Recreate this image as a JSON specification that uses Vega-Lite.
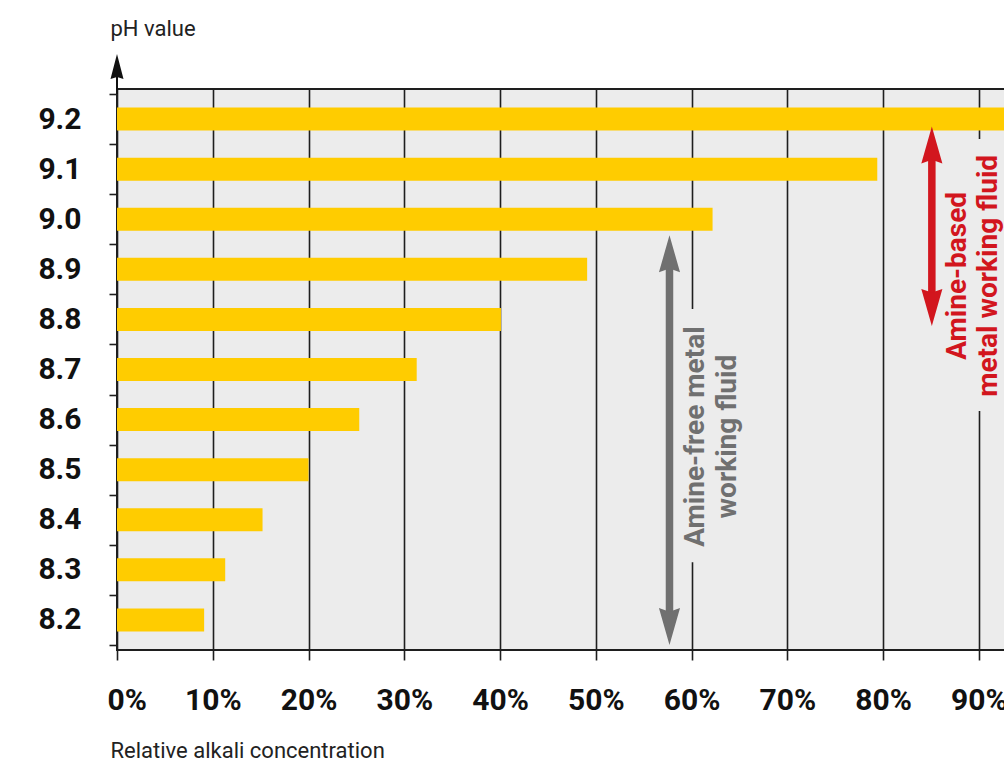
{
  "$schema": "https://vega.github.io/schema/vega-lite/v6.json",
  "width": 888,
  "height": 561,
  "autosize": {"type": "none"},
  "padding": {"left": 117, "top": 89, "right": 0, "bottom": 111},
  "background": "white",
  "config": {
    "view": {"fill": "#ececec", "stroke": "#1e1e1e", "strokeWidth": 2},
    "font": "Roboto"
  },
  "datasets": {
    "bars": [
      {"ph": 9.2, "share": 100},
      {"ph": 9.1, "share": 79.4},
      {"ph": 9.0, "share": 62.2},
      {"ph": 8.9, "share": 49.1},
      {"ph": 8.8, "share": 40.1},
      {"ph": 8.7, "share": 31.3},
      {"ph": 8.6, "share": 25.3},
      {"ph": 8.5, "share": 20.0},
      {"ph": 8.4, "share": 15.2},
      {"ph": 8.3, "share": 11.3},
      {"ph": 8.2, "share": 9.1}
    ],
    "ranges": [
      {"fluid": "Amine-free", "x": 57.7, "low": 8.15, "high": 8.968, "shaftLow": 8.21, "shaftHigh": 8.91},
      {"fluid": "Amine-based", "x": 85.1, "low": 8.787, "high": 9.185, "shaftLow": 8.85, "shaftHigh": 9.125}
    ],
    "labels": [
      {"fluid": "Amine-free", "x": 60.5, "y": 8.566, "lines": ["Amine-free metal", "working fluid"], "bx1": 59.5, "bx2": 64.8, "by1": 8.315, "by2": 8.821},
      {"fluid": "Amine-based", "x": 87.8, "y": 8.887, "lines": ["Amine-based", "metal working fluid"], "bx1": 87.0, "bx2": 92.74, "by1": 8.617, "by2": 9.16}
    ],
    "axisArrow": [
      {"x": 0, "base": 9.25, "top": 9.29, "tip": 9.33}
    ]
  },
  "layer": [
    {
      "data": {"name": "bars"},
      "mark": {"type": "bar", "orient": "horizontal", "size": 23, "color": "#ffcc00", "clip": true},
      "encoding": {
        "x": {
          "field": "share", "type": "quantitative",
          "scale": {"domain": [0, 92.74], "nice": false, "zero": true},
          "axis": {
            "values": [0, 10, 20, 30, 40, 50, 60, 70, 80, 90],
            "labelExpr": "datum.value + '%'",
            "grid": true, "gridColor": "#1e1e1e", "gridWidth": 1.6,
            "domain": false,
            "tickColor": "#1e1e1e", "tickWidth": 1.6, "tickSize": 10,
            "labelFont": "Roboto", "labelFontSize": 30, "labelFontWeight": "bold", "labelColor": "#111111",
            "labelBaseline": "alphabetic", "labelPadding": 49,
            "labelFlush": true, "labelFlushOffset": 10, "labelOverlap": false,
            "title": "Relative alkali concentration",
            "titleFont": "Roboto", "titleFontSize": 22, "titleFontWeight": "normal", "titleColor": "#222222",
            "titleAngle": 0, "titleAlign": "left", "titleBaseline": "alphabetic",
            "titleX": -7, "titleY": 107
          }
        },
        "y": {
          "field": "ph", "type": "quantitative",
          "scale": {"domain": [8.15, 9.25], "nice": false, "zero": false},
          "axis": {
            "values": [8.15, 8.2, 8.25, 8.3, 8.35, 8.4, 8.45, 8.5, 8.55, 8.6, 8.65, 8.7, 8.75, 8.8, 8.85, 8.9, 8.95, 9.0, 9.05, 9.1, 9.15, 9.2, 9.25],
            "labelExpr": "abs(datum.value * 10 - round(datum.value * 10)) < 0.01 ? format(datum.value, '.1f') : ''",
            "tickOpacity": {"condition": {"test": "abs(datum.value * 10 - round(datum.value * 10)) < 0.01", "value": 0}, "value": 1},
            "tickSize": 8, "tickColor": "#1e1e1e", "tickWidth": 1.6,
            "domain": false, "grid": false,
            "labelFont": "Roboto", "labelFontSize": 30, "labelFontWeight": "bold", "labelColor": "#111111",
            "labelPadding": 28, "labelOverlap": false, "labelFlush": false,
            "title": "pH value",
            "titleFont": "Roboto", "titleFontSize": 22, "titleFontWeight": "normal", "titleColor": "#222222",
            "titleAngle": 0, "titleAlign": "left", "titleBaseline": "alphabetic",
            "titleX": -7, "titleY": -54
          }
        }
      }
    },
    {
      "data": {"name": "labels"},
      "mark": {"type": "rect", "color": "#ececec"},
      "encoding": {
        "x": {"field": "bx1", "type": "quantitative", "axis": null},
        "x2": {"field": "bx2"},
        "y": {"field": "by1", "type": "quantitative", "axis": null},
        "y2": {"field": "by2"}
      }
    },
    {
      "data": {"name": "ranges"},
      "mark": {"type": "rule", "strokeWidth": 7.5, "strokeCap": "butt"},
      "encoding": {
        "x": {"field": "x", "type": "quantitative", "axis": null},
        "y": {"field": "shaftLow", "type": "quantitative", "axis": null},
        "y2": {"field": "shaftHigh"},
        "color": {"field": "fluid", "type": "nominal", "scale": {"domain": ["Amine-free", "Amine-based"], "range": ["#707070", "#d2161e"]}, "legend": null}
      }
    },
    {
      "data": {"name": "ranges"},
      "mark": {"type": "point", "filled": true, "opacity": 1, "strokeWidth": 0, "size": 1369, "shape": "M0,0L0.57,2L0,1.8L-0.57,2Z"},
      "encoding": {
        "x": {"field": "x", "type": "quantitative", "axis": null},
        "y": {"field": "high", "type": "quantitative", "axis": null},
        "color": {"field": "fluid", "type": "nominal", "scale": {"domain": ["Amine-free", "Amine-based"], "range": ["#707070", "#d2161e"]}, "legend": null}
      }
    },
    {
      "data": {"name": "ranges"},
      "mark": {"type": "point", "filled": true, "opacity": 1, "strokeWidth": 0, "size": 1369, "shape": "M0,0L0.57,-2L0,-1.8L-0.57,-2Z"},
      "encoding": {
        "x": {"field": "x", "type": "quantitative", "axis": null},
        "y": {"field": "low", "type": "quantitative", "axis": null},
        "color": {"field": "fluid", "type": "nominal", "scale": {"domain": ["Amine-free", "Amine-based"], "range": ["#707070", "#d2161e"]}, "legend": null}
      }
    },
    {
      "data": {"name": "labels"},
      "mark": {"type": "text", "angle": 270, "font": "Roboto", "fontSize": 28, "fontWeight": "bold", "lineHeight": 31.5, "align": "center", "baseline": "middle"},
      "encoding": {
        "x": {"field": "x", "type": "quantitative", "axis": null},
        "y": {"field": "y", "type": "quantitative", "axis": null},
        "text": {"field": "lines"},
        "color": {"field": "fluid", "type": "nominal", "scale": {"domain": ["Amine-free", "Amine-based"], "range": ["#707070", "#d2161e"]}, "legend": null}
      }
    },
    {
      "data": {"name": "axisArrow"},
      "mark": {"type": "rule", "strokeWidth": 2, "color": "#111111", "clip": false},
      "encoding": {
        "x": {"field": "x", "type": "quantitative", "axis": null},
        "y": {"field": "base", "type": "quantitative", "axis": null},
        "y2": {"field": "top"}
      }
    },
    {
      "data": {"name": "axisArrow"},
      "mark": {"type": "point", "filled": true, "opacity": 1, "strokeWidth": 0, "size": 625, "color": "#111111", "clip": false, "shape": "M0,0L0.52,2L0,1.85L-0.52,2Z"},
      "encoding": {
        "x": {"field": "x", "type": "quantitative", "axis": null},
        "y": {"field": "tip", "type": "quantitative", "axis": null}
      }
    }
  ],
  "resolve": {"axis": {"x": "independent", "y": "independent"}}
}
